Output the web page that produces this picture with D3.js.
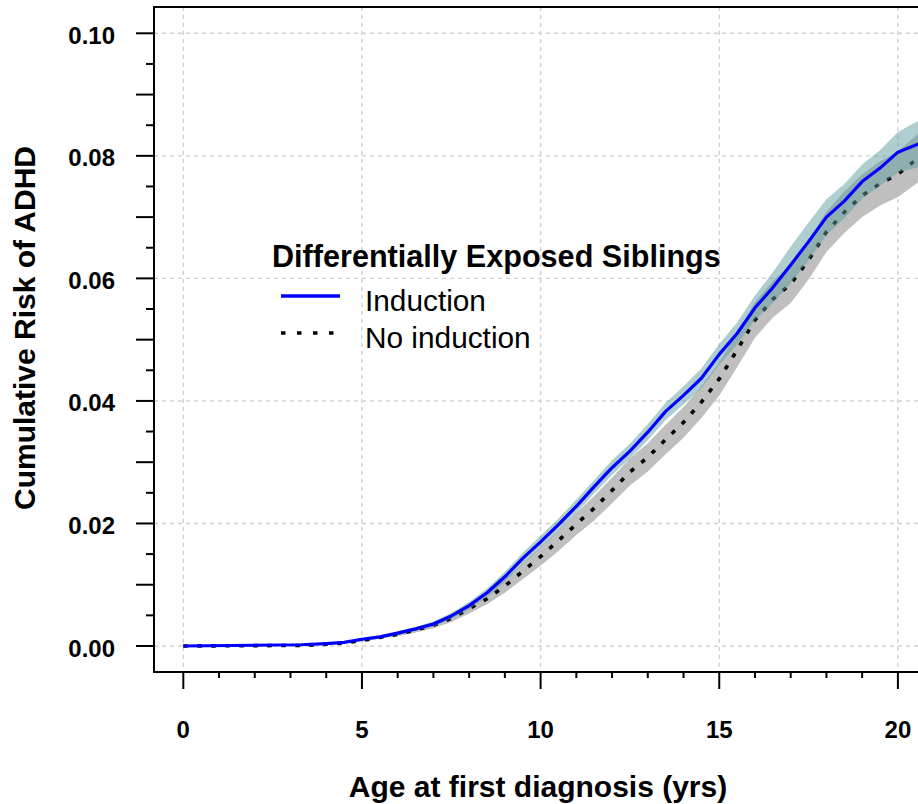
<!DOCTYPE html>
<html>
<head>
<meta charset="utf-8">
<script src="https://cdn.jsdelivr.net/npm/d3@7"></script>
<style>
  html, body { margin: 0; padding: 0; background: #ffffff; }
  svg { display: block; }
  text { font-family: "Liberation Sans", Arial, sans-serif; fill: #000; }
</style>
</head>
<body>
<svg id="chart" width="918" height="804"></svg>
<script>
// ---- data ----
const ageInd  = [0, 3.3, 4.0, 4.5, 5.0, 5.5, 6.0, 6.5, 7.0, 7.5, 8.0, 8.5, 9.0, 9.5, 10.0, 10.5, 11.0, 11.5, 12.0, 12.5, 13.0, 13.5, 14.0, 14.5, 15.0, 15.5, 16.0, 16.5, 17.0, 17.5, 18.0, 18.5, 19.0, 19.5, 20.0, 20.6];
const riskInd = [0, 0.0002, 0.0004, 0.0006, 0.0011, 0.0015, 0.0021, 0.0028, 0.0036, 0.0049, 0.0066, 0.0087, 0.0113, 0.0143, 0.0170, 0.0198, 0.0228, 0.0260, 0.0291, 0.0318, 0.0349, 0.0383, 0.0409, 0.0437, 0.0476, 0.0510, 0.0552, 0.0585, 0.0622, 0.0660, 0.0700, 0.0726, 0.0758, 0.0780, 0.0806, 0.0820];
const loInd   = [0, 0.0002, 0.0003, 0.0005, 0.0009, 0.0013, 0.0018, 0.0025, 0.0032, 0.0044, 0.0060, 0.0080, 0.0105, 0.0134, 0.0160, 0.0188, 0.0217, 0.0249, 0.0279, 0.0306, 0.0336, 0.0369, 0.0394, 0.0421, 0.0459, 0.0492, 0.0532, 0.0560, 0.0592, 0.0629, 0.0671, 0.0698, 0.0730, 0.0751, 0.0773, 0.0782];
const hiInd   = [0, 0.0002, 0.0005, 0.0007, 0.0013, 0.0017, 0.0024, 0.0031, 0.0040, 0.0054, 0.0072, 0.0094, 0.0121, 0.0152, 0.0180, 0.0208, 0.0239, 0.0271, 0.0303, 0.0330, 0.0362, 0.0397, 0.0424, 0.0453, 0.0493, 0.0528, 0.0572, 0.0610, 0.0652, 0.0691, 0.0729, 0.0754, 0.0786, 0.0809, 0.0839, 0.0858];

const ageNo  = [0, 3.5, 4.5, 5.0, 5.5, 6.0, 6.5, 7.0, 7.5, 8.0, 8.5, 9.0, 9.5, 10.0, 10.5, 11.0, 11.5, 12.0, 12.5, 13.0, 13.5, 14.0, 14.5, 15.0, 15.5, 16.0, 16.5, 17.0, 17.5, 18.0, 18.5, 19.0, 19.5, 20.0, 20.6];
const riskNo = [0, 0.0001, 0.0005, 0.0009, 0.0014, 0.0019, 0.0026, 0.0034, 0.0045, 0.0061, 0.0077, 0.0098, 0.0122, 0.0146, 0.0172, 0.0199, 0.0225, 0.0254, 0.0284, 0.0308, 0.0337, 0.0365, 0.0398, 0.0436, 0.0483, 0.0532, 0.0566, 0.0591, 0.0630, 0.0676, 0.0708, 0.0735, 0.0755, 0.0770, 0.0798];
const loNo   = [0, 0.0001, 0.0004, 0.0007, 0.0012, 0.0016, 0.0022, 0.0029, 0.0039, 0.0053, 0.0068, 0.0087, 0.0109, 0.0131, 0.0155, 0.0181, 0.0205, 0.0233, 0.0262, 0.0285, 0.0313, 0.0340, 0.0372, 0.0409, 0.0455, 0.0503, 0.0536, 0.0560, 0.0598, 0.0643, 0.0674, 0.0700, 0.0719, 0.0733, 0.0758];
const hiNo   = [0, 0.0001, 0.0006, 0.0011, 0.0016, 0.0022, 0.0030, 0.0039, 0.0051, 0.0069, 0.0086, 0.0109, 0.0135, 0.0161, 0.0189, 0.0217, 0.0245, 0.0275, 0.0306, 0.0331, 0.0361, 0.0390, 0.0424, 0.0463, 0.0511, 0.0561, 0.0596, 0.0622, 0.0662, 0.0709, 0.0742, 0.0770, 0.0791, 0.0807, 0.0838];

const xMajor = [0, 5, 10, 15, 20];
const xMinor = [1, 2, 3, 4, 6, 7, 8, 9, 11, 12, 13, 14, 16, 17, 18, 19];
const yMajor = [0, 0.02, 0.04, 0.06, 0.08, 0.10];
const yMid   = [0.01, 0.03, 0.05, 0.07, 0.09];
const yMinor = [0.005, 0.015, 0.025, 0.035, 0.045, 0.055, 0.065, 0.075, 0.085, 0.095];

const legendTitle = "Differentially Exposed Siblings";
const seriesNames = ["Induction", "No induction"];
const xTitle = "Age at first diagnosis (yrs)";
const yTitle = "Cumulative Risk of ADHD";

// ---- layout ----
const svg = d3.select("#chart");
const W = 918, H = 804;
const frameL = 154, frameT = 7, frameB = 672;

const x = d3.scaleLinear().domain([0, 20]).range([183.3, 897.9]);
const y = d3.scaleLinear().domain([0, 0.10]).range([646, 33.3]);

svg.append("rect").attr("width", W).attr("height", H).attr("fill", "#fff");

// grid
const grid = svg.append("g").attr("stroke", "#d0d0d0").attr("stroke-width", 1.4)
  .attr("stroke-dasharray", "4,4");
grid.selectAll("line.v").data(xMajor).join("line")
  .attr("x1", d => x(d)).attr("x2", d => x(d))
  .attr("y1", frameT).attr("y2", frameB);
grid.selectAll("line.h").data(yMajor).join("line")
  .attr("y1", d => y(d)).attr("y2", d => y(d))
  .attr("x1", frameL).attr("x2", W);

// bands and lines
const band = (ages, lo, hi) => d3.area()
  .x((d, i) => x(ages[i]))
  .y0((d, i) => y(lo[i]))
  .y1((d, i) => y(hi[i]))(ages);
const line = (ages, vals) => d3.line()
  .x((d, i) => x(ages[i]))
  .y((d, i) => y(vals[i]))(ages);

const plot = svg.append("g");
plot.append("path").attr("d", band(ageNo, loNo, hiNo)).attr("fill", "#bfbfbf");
plot.append("path").attr("d", line(ageNo, riskNo))
  .attr("fill", "none").attr("stroke", "#000").attr("stroke-width", 3.6)
  .attr("stroke-dasharray", "4.5,9.5");
plot.append("path").attr("d", band(ageInd, loInd, hiInd))
  .attr("fill", "#5f9ea0").attr("fill-opacity", 0.5);
plot.append("path").attr("d", line(ageInd, riskInd))
  .attr("fill", "none").attr("stroke", "#0000ff").attr("stroke-width", 3.2)
  .attr("stroke-linejoin", "round");

// frame
const frame = svg.append("g").attr("stroke", "#000").attr("stroke-width", 2).attr("fill", "none");
frame.append("path").attr("d", `M${W + 5},${frameT}H${frameL}V${frameB}H${W + 5}`);

// y ticks
const yt = svg.append("g").attr("stroke", "#000").attr("stroke-width", 2);
yt.selectAll("line.a").data(yMajor.concat(yMid)).join("line")
  .attr("x1", frameL - 18).attr("x2", frameL)
  .attr("y1", d => y(d)).attr("y2", d => y(d));
yt.selectAll("line.b").data(yMinor).join("line")
  .attr("x1", frameL - 8).attr("x2", frameL)
  .attr("y1", d => y(d)).attr("y2", d => y(d));
svg.append("g").selectAll("text").data(yMajor).join("text")
  .attr("x", 115).attr("y", d => y(d) + 10.5)
  .attr("text-anchor", "end").attr("font-size", 24).attr("font-weight", "bold")
  .text(d => d3.format(".2f")(d));

// x ticks
const xt = svg.append("g").attr("stroke", "#000").attr("stroke-width", 2);
xt.selectAll("line.a").data(xMajor).join("line")
  .attr("x1", d => x(d)).attr("x2", d => x(d))
  .attr("y1", frameB).attr("y2", frameB + 17);
xt.selectAll("line.b").data(xMinor).join("line")
  .attr("x1", d => x(d)).attr("x2", d => x(d))
  .attr("y1", frameB).attr("y2", frameB + 6);
svg.append("g").selectAll("text").data(xMajor).join("text")
  .attr("x", d => x(d)).attr("y", 738)
  .attr("text-anchor", "middle").attr("font-size", 24).attr("font-weight", "bold")
  .text(d => d);

// axis titles
svg.append("text").attr("x", 538).attr("y", 797)
  .attr("text-anchor", "middle").attr("font-size", 30).attr("font-weight", "bold")
  .text(xTitle);
svg.append("text").attr("transform", "translate(35,328) rotate(-90)")
  .attr("text-anchor", "middle").attr("font-size", 30).attr("font-weight", "bold")
  .text(yTitle);

// legend
const lg = svg.append("g");
lg.append("text").attr("x", 272).attr("y", 267)
  .attr("font-size", 30.6).attr("font-weight", "bold").text(legendTitle);
lg.append("line").attr("x1", 281).attr("x2", 340).attr("y1", 296).attr("y2", 296)
  .attr("stroke", "#0000ff").attr("stroke-width", 3.4);
lg.append("line").attr("x1", 281).attr("x2", 340).attr("y1", 333).attr("y2", 333)
  .attr("stroke", "#000").attr("stroke-width", 3.6).attr("stroke-dasharray", "4.5,11.5");
lg.selectAll("text.item").data(seriesNames).join("text")
  .attr("x", 365).attr("y", (d, i) => 311 + i * 37)
  .attr("font-size", 29.8).text(d => d);
</script>
</body>
</html>
